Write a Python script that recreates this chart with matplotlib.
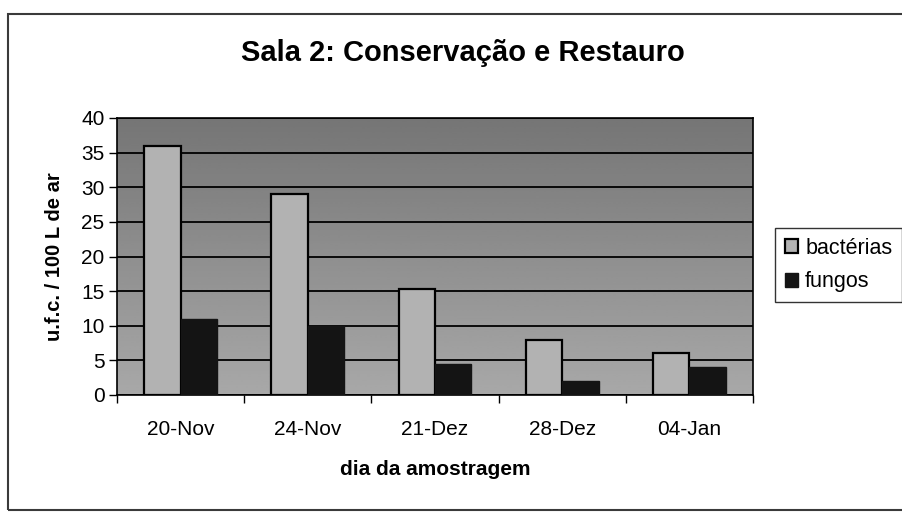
import numpy as np
import matplotlib
matplotlib.use("Agg")
import matplotlib.pyplot as plt
from matplotlib.patches import Rectangle

plt.rcParams['font.family'] = ['Liberation Sans', 'DejaVu Sans']

# data
dias = ['20-Nov', '24-Nov', '21-Dez', '28-Dez', '04-Jan']
bacterias = [36, 29, 15.3, 8, 6]
fungos = [11, 10, 4.5, 2, 4]

fig = plt.figure(figsize=(9.02, 5.15), dpi=100)
fig.patch.set_facecolor('white')

# outer border of the chart object
fig.patches.append(Rectangle((8 / 902, 5 / 515), 1.0, 496 / 515, transform=fig.transFigure,
                             fill=False, edgecolor='#3a3a3a', linewidth=1.5))

ax = fig.add_axes([117 / 902, 1 - 395 / 515, 636 / 902, 277 / 515])

# grey plot area, darker at the top
grad = np.linspace(0.46, 0.66, 100).reshape(-1, 1)
ax.imshow(grad, extent=(-0.5, 4.5, 0, 40), origin='upper', aspect='auto', cmap='gray',
          vmin=0, vmax=1, zorder=0, interpolation='bilinear')

x = np.arange(len(dias))
w = 0.286
ax.bar(x - w / 2, bacterias, w, color='#b2b2b2', edgecolor='black', linewidth=1.6,
       label='bactérias', zorder=3)
ax.bar(x + w / 2, fungos, w, color='#141414', edgecolor='#141414', linewidth=1,
       label='fungos', zorder=3)

ax.set_xlim(-0.5, 4.5)
ax.set_ylim(0, 40)
ax.set_yticks(range(0, 41, 5))
ax.yaxis.grid(True, color='black', linewidth=1.3, zorder=1)
ax.set_axisbelow(False)
for s in ax.spines.values():
    s.set_linewidth(1.2)
    s.set_color('black')

ax.set_xticks(x)
ax.set_xticklabels(dias, fontsize=15)
ax.set_xticks(np.arange(-0.5, 5, 1), minor=True)
ax.tick_params(axis='x', which='major', length=0, pad=18)
ax.tick_params(axis='x', which='minor', length=6, width=1, direction='out')
ax.tick_params(axis='y', length=6, width=1, direction='out', labelsize=15, pad=3)

ax.set_ylabel('u.f.c. / 100 L de ar', fontsize=14.5, fontweight='bold', labelpad=12)
ax.set_xlabel('dia da amostragem', fontsize=15, fontweight='bold', labelpad=15)

fig.text(463 / 902, 1 - 53 / 515, 'Sala 2: Conservação e Restauro', ha='center', va='center',
         fontsize=21, fontweight='bold')

leg = ax.legend(loc='center left', bbox_to_anchor=(775 / 902, 1 - 265 / 515),
                bbox_transform=fig.transFigure, fontsize=15.5, frameon=True, fancybox=False,
                handlelength=0.6, handleheight=0.6, handletextpad=0.35, borderpad=0.45,
                labelspacing=0.6, borderaxespad=0)
leg.get_frame().set_edgecolor('black')
leg.get_frame().set_linewidth(1)

fig.savefig('out.png', dpi=100)
